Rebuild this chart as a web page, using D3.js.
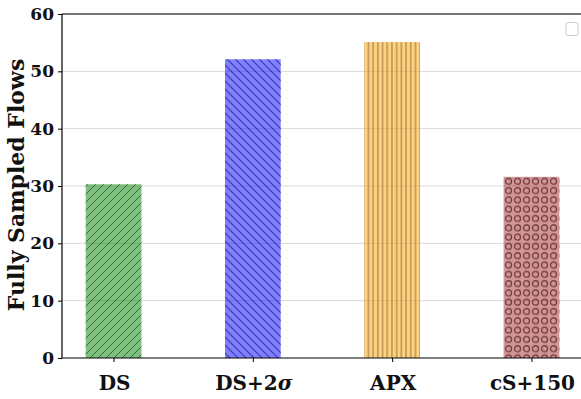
<!DOCTYPE html>
<html>
<head>
<meta charset="utf-8">
<script src="https://cdn.jsdelivr.net/npm/d3@7"></script>
<style>
  html, body { margin: 0; padding: 0; background: #fff; }
  svg { display: block; font-family: "DejaVu Serif", serif; font-weight: bold; }
</style>
</head>
<body>
<svg id="chart" width="581" height="399"></svg>
<script>
// Methods compared and the number of fully sampled flows for each
const categories = ["DS", "DS+2σ", "APX", "cS+150"];
const flows = [30.3, 52.1, 55.1, 31.6];
const yTicks = [0, 10, 20, 30, 40, 50, 60];
const barColors = ["#008000", "#0000ff", "#ffa500", "#a52a2a"];
const hatchColors = ["#1f5f1f", "#20208a", "#8a6a3a", "#5a2a2a"];
const hatchKinds = ["slash", "backslash", "vline", "circle"];

const svg = d3.select("#chart");
const margin = { left: 62, top: 14, bottom: 358, right: 583 };

const x = d3.scaleLinear().domain([-0.37, 3.37]).range([margin.left, margin.right]);
const y = d3.scaleLinear().domain([0, 60]).range([margin.bottom, margin.top]);
const barWidth = 0.4;

// Hatch patterns
const defs = svg.append("defs");
hatchKinds.forEach((kind, i) => {
  const c = hatchColors[i];
  if (kind === "slash") {
    const p = defs.append("pattern").attr("id", "h" + i)
      .attr("patternUnits", "userSpaceOnUse").attr("width", 8).attr("height", 8);
    p.append("path").attr("d", "M-2,2 L2,-2 M0,8 L8,0 M6,10 L10,6")
      .attr("stroke", c).attr("stroke-width", 1).attr("stroke-opacity", 0.8);
  } else if (kind === "backslash") {
    const p = defs.append("pattern").attr("id", "h" + i)
      .attr("patternUnits", "userSpaceOnUse").attr("width", 8).attr("height", 8);
    p.append("path").attr("d", "M-2,6 L2,10 M0,0 L8,8 M6,-2 L10,2")
      .attr("stroke", c).attr("stroke-width", 1.1).attr("stroke-opacity", 0.75);
  } else if (kind === "vline") {
    const p = defs.append("pattern").attr("id", "h" + i)
      .attr("patternUnits", "userSpaceOnUse").attr("width", 4.7).attr("height", 10);
    p.append("rect").attr("x", 1.2).attr("y", 0).attr("width", 1.3).attr("height", 10)
      .attr("fill", c).attr("fill-opacity", 0.7);
  } else {
    const p = defs.append("pattern").attr("id", "h" + i)
      .attr("patternUnits", "userSpaceOnUse").attr("width", 9).attr("height", 9.3);
    p.append("circle").attr("cx", 4.5).attr("cy", 4.6).attr("r", 3)
      .attr("fill", "none").attr("stroke", c).attr("stroke-width", 1.3).attr("stroke-opacity", 0.8);
  }
});

// Horizontal grid
svg.append("g").selectAll("line").data(yTicks.slice(1)).join("line")
  .attr("x1", margin.left).attr("x2", margin.right)
  .attr("y1", d => y(d)).attr("y2", d => y(d))
  .attr("stroke", "#d9d9d9").attr("stroke-width", 1);

// Bars: translucent fill with a hatch overlay
const bars = svg.append("g");
flows.forEach((v, i) => {
  const x0 = x(i - barWidth / 2), w = x(i + barWidth / 2) - x0;
  bars.append("rect").attr("x", x0).attr("y", y(v)).attr("width", w)
    .attr("height", y(0) - y(v)).attr("fill", barColors[i]).attr("fill-opacity", 0.5);
  bars.append("rect").attr("x", x0).attr("y", y(v)).attr("width", w)
    .attr("height", y(0) - y(v)).attr("fill", `url(#h${i})`);
});

// Axes
const yAxis = d3.axisLeft(y).tickValues(yTicks).tickSize(4).tickPadding(4);
const gy = svg.append("g").attr("transform", `translate(${margin.left},0)`).call(yAxis);
gy.select(".domain").remove();
gy.selectAll(".tick line").attr("stroke", "#000");
gy.selectAll(".tick text").attr("font-family", "DejaVu Serif").attr("font-weight", "bold")
  .attr("font-size", 17).attr("fill", "#111");

const xAxis = d3.axisBottom(x).tickValues(d3.range(categories.length))
  .tickFormat(() => "").tickSize(4);
const gx = svg.append("g").attr("transform", `translate(0,${margin.bottom})`).call(xAxis);
gx.select(".domain").remove();
gx.selectAll(".tick line").attr("stroke", "#000");

// Category labels (σ set in italic)
const xl = svg.append("g").attr("font-size", 20).attr("fill", "#111").attr("text-anchor", "middle");
categories.forEach((c, i) => {
  const t = xl.append("text").attr("x", x(i) + 1).attr("y", 390);
  if (c.includes("σ")) {
    const [a] = c.split("σ");
    t.append("tspan").text(a);
    t.append("tspan").attr("font-style", "italic").text("σ");
  } else {
    t.text(c);
  }
});

// Spines
svg.append("line").attr("x1", margin.left).attr("x2", margin.left)
  .attr("y1", margin.top).attr("y2", margin.bottom).attr("stroke", "#000").attr("stroke-width", 1.2);
svg.append("line").attr("x1", margin.left).attr("x2", margin.right)
  .attr("y1", margin.bottom).attr("y2", margin.bottom).attr("stroke", "#000").attr("stroke-width", 1.2);
svg.append("line").attr("x1", margin.left).attr("x2", margin.right)
  .attr("y1", margin.top).attr("y2", margin.top).attr("stroke", "#000").attr("stroke-width", 1.2);
svg.append("line").attr("x1", margin.right).attr("x2", margin.right)
  .attr("y1", margin.top).attr("y2", margin.bottom).attr("stroke", "#000").attr("stroke-width", 1.2);

// Y axis title
svg.append("text").attr("transform", `translate(24,${(margin.top + margin.bottom) / 2 - 1}) rotate(-90)`)
  .attr("text-anchor", "middle").attr("font-size", 22).attr("fill", "#111")
  .text("Fully Sampled Flows");

// Empty legend frame
svg.append("rect").attr("x", 566).attr("y", 22.5).attr("width", 12).attr("height", 13)
  .attr("rx", 2).attr("fill", "#fff").attr("stroke", "#cccccc").attr("stroke-width", 1);
</script>
</body>
</html>
